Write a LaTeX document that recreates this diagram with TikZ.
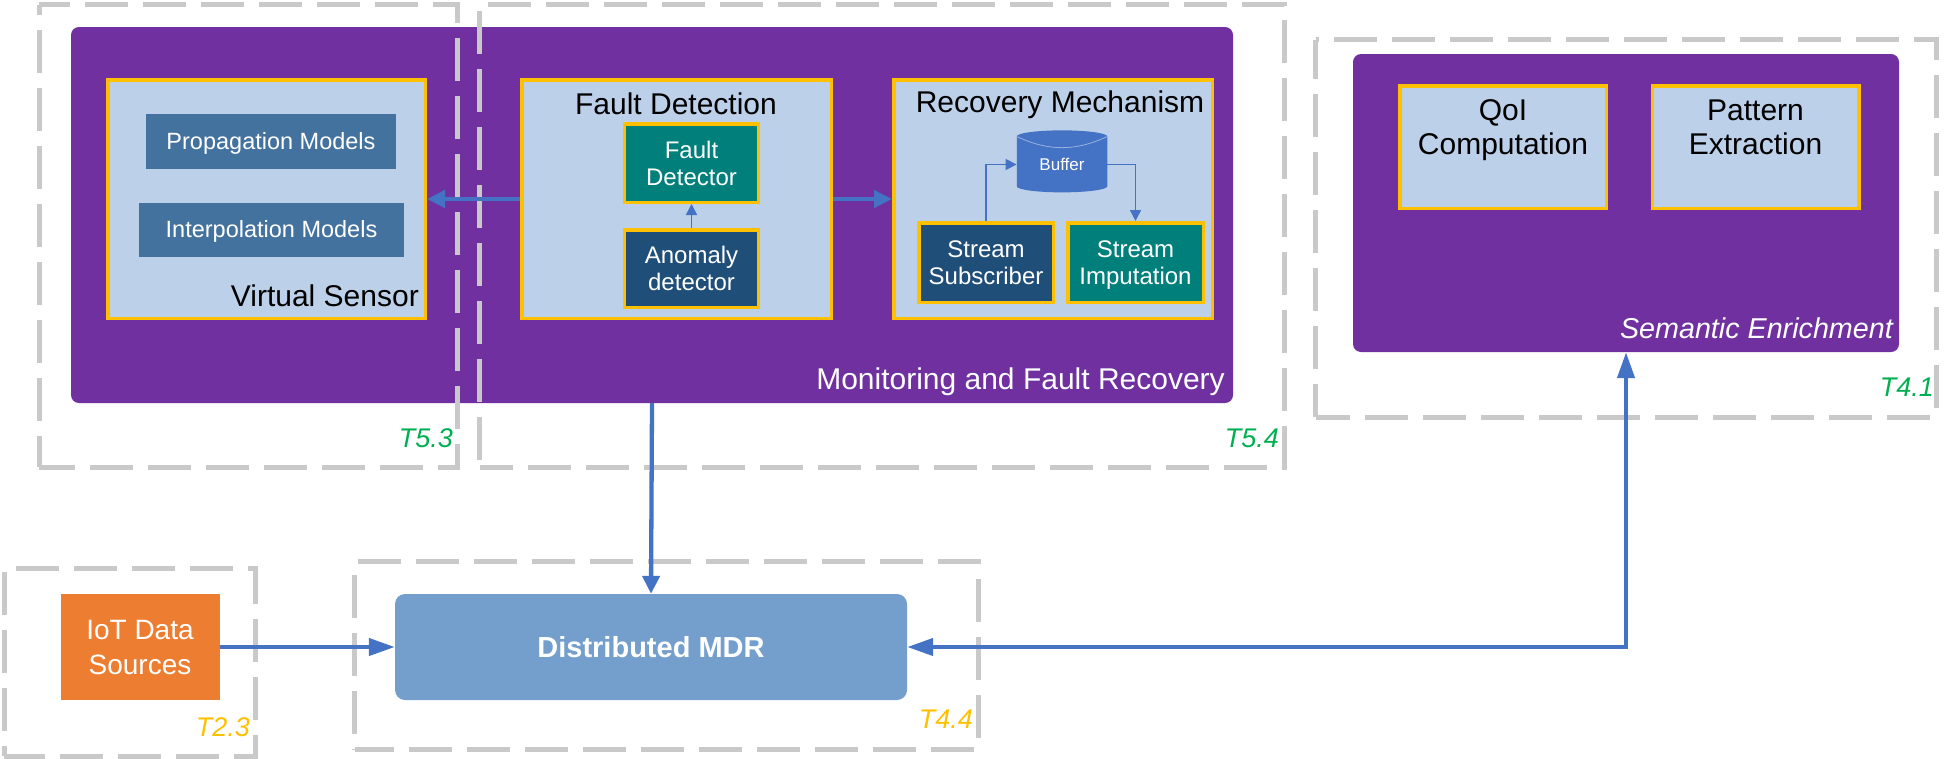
\documentclass[tikz,border=0pt]{standalone}
\usepackage{fontspec}
\setmainfont{Liberation Sans}
\usetikzlibrary{arrows.meta,shapes.geometric}
\definecolor{mainpurple}{HTML}{7030A0}
\definecolor{lightblue}{HTML}{BDD0E9}
\definecolor{goldline}{HTML}{FFC000}
\definecolor{tealbox}{HTML}{007F7B}
\definecolor{darkbox}{HTML}{1F4E79}
\definecolor{modelbox}{HTML}{44729F}
\definecolor{linkblue}{HTML}{4472C4}
\definecolor{mdrblue}{HTML}{749FCD}
\definecolor{iotorange}{HTML}{ED7D31}
\definecolor{taskgreen}{HTML}{00B050}
\definecolor{dashgray}{HTML}{C9C9C9}
\newcommand{\fs}[2]{\fontsize{#1}{#2}\selectfont}
\tikzset{
    frameanchor/.style={inner sep=0pt},
    taskline/.style={draw=dashgray, line width=5pt, dash pattern=on 43pt off 15pt},
    groupbox/.style={fill=mainpurple, rounded corners=8pt, inner sep=0pt},
    panelbox/.style={fill=lightblue, draw=goldline, line width=3.5pt, inner sep=0pt},
    modelnode/.style={fill=modelbox, text=white, inner sep=0pt, text height=18pt, text depth=3pt, font=\fs{23.5}{28}},
    tealnode/.style={fill=tealbox, draw=goldline, line width=3.5pt, text=white, align=center, inner sep=0pt, font=\fs{24}{27}},
    darknode/.style={fill=darkbox, draw=goldline, line width=3.5pt, text=white, align=center, inner sep=0pt, font=\fs{24}{27}},
    paneltext/.style={align=center, inner sep=0pt, font=\fs{30}{34}},
    tasktext/.style={anchor=east, inner sep=0pt, font=\fs{27}{32}\itshape},
    biglink/.style={draw=linkblue, line width=4.3pt, -{Triangle[length=18pt,width=17pt]}},
    longlink/.style={draw=linkblue, line width=4.3pt, -{Triangle[length=26pt,width=17pt]}},
    smalllink/.style={draw=linkblue, line width=1.6pt, -{Triangle[length=11pt,width=11pt]}}
}
\begin{document}
\begin{tikzpicture}[x=1pt,y=-1pt]
    \useasboundingbox (0,0) rectangle (1945,758);
    % purple groups
    \node [groupbox, minimum width=1162pt, minimum height=376pt] (main) at (652,215) {};
    \node [groupbox, minimum width=546pt, minimum height=298pt] (sem) at (1626,203) {};
    % task frames
    \node [frameanchor, minimum width=418pt, minimum height=462pt] (t53) at (248.5,236) {};
    \node [frameanchor, minimum width=804pt, minimum height=462pt] (t54) at (882,236) {};
    \node [frameanchor, minimum width=620pt, minimum height=377pt] (t41) at (1626,228.5) {};
    \node [frameanchor, minimum width=251pt, minimum height=187pt] (t23) at (130,662.5) {};
    \node [frameanchor, minimum width=623pt, minimum height=187pt] (t44) at (666.5,655.5) {};
    \foreach \frm/\phs/\phl in {t53/12/32.5,t54/50/51.5,t41/40/4,t23/46.5/55,t44/55/45} {
        \draw [taskline, dash phase=\phs pt] (\frm.north west) -- (\frm.north east) -- (\frm.south east) -- (\frm.south west);
        \draw [taskline, dash phase=\phl pt] (\frm.north west) -- (\frm.south west);
    }
    % panels
    \node [panelbox, minimum width=317.5pt, minimum height=238.5pt] (vs) at (266.5,199) {};
    \node [panelbox, minimum width=309.5pt, minimum height=238.5pt] (fd) at (676.5,199) {};
    \node [panelbox, minimum width=318.5pt, minimum height=238.5pt] (rec) at (1053,199) {};
    \node [panelbox, minimum width=206.5pt, minimum height=122.5pt] (qoi) at (1503,147) {};
    \node [panelbox, minimum width=206.5pt, minimum height=122.5pt] (pat) at (1755.5,147) {};
    % inner boxes
    \node [modelnode, minimum width=249.5pt, minimum height=55pt] (prop) at (271,141.5) {Propagation Models};
    \node [modelnode, minimum width=265pt, minimum height=54pt] (interp) at (271.5,230) {Interpolation Models};
    \node [tealnode, minimum width=134pt, minimum height=78.5pt] (det) at (691.5,163) {Fault\\Detector};
    \node [darknode, minimum width=134pt, minimum height=77.5pt] (anom) at (691.5,268.5) {Anomaly\\detector};
    \node [darknode, minimum width=134.5pt, minimum height=79.5pt] (sub) at (986,262.5) {Stream\\Subscriber};
    \node [tealnode, minimum width=135.5pt, minimum height=79.5pt] (imp) at (1135.5,262.5) {Stream\\\smash{Imputation}};
    \node [cylinder, shape border rotate=90, aspect=0.27, fill=linkblue, text=white, inner sep=0pt, minimum width=90.5pt, minimum height=62pt, font=\fs{17}{20}] (buf) at (1062,164.5) {Buffer};
    \draw [white!45!linkblue, line width=.8pt] (buf.before top) to [out=-25,in=-155] (buf.after top);
    \node [fill=iotorange, text=white, align=center, inner sep=0pt, minimum width=159pt, minimum height=106pt, font=\fs{28}{35}] (iot) at (140,647) {IoT Data\\Sources};
    \node [fill=mdrblue, text=white, rounded corners=10pt, inner sep=0pt, minimum width=512pt, minimum height=106pt, font=\fs{29}{34}\bfseries] (mdr) at (651,647) {Distributed MDR};
    % lecter
    \node [paneltext, anchor=east] (vstext) at (419,296) {Virtual Sensor};
    \node [paneltext] (fdtext) at (676,104) {Fault Detection};
    \node [paneltext] (rectext) at (1060,105) {Recovery Mechanism};
    \node [paneltext] (qoitext) at (1503,127) {QoI\\\smash{Computation}};
    \node [paneltext] (pattext) at (1755.5,127) {Pattern\\Extraction};
    \node [paneltext, anchor=east, text=white] (maintext) at (1225,382) {Monitoring and Fault Recovery};
    \node [paneltext, anchor=east, text=white, font=\fs{28.7}{34}\itshape] (semtext) at (1893,328) {Semantic Enrichment};
    \node [tasktext, text=taskgreen] (t53text) at (453,438) {T5.3};
    \node [tasktext, text=taskgreen] (t54text) at (1279,438) {T5.4};
    \node [tasktext, text=taskgreen] (t41text) at (1934,387) {T4.1};
    \node [tasktext, text=goldline] (t23text) at (250,727) {T2.3};
    \node [tasktext, text=goldline] (t44text) at (973,719) {T4.4};
    % links
    \draw [smalllink] (anom.north) -- (det.south);
    \draw [smalllink] (sub.north) |- (buf.west);
    \draw [smalllink] (buf.east) -| (imp.north);
    \draw [biglink] (fd.west) -- (vs.east);
    \draw [biglink] (fd.east) -- (rec.west);
    \draw [biglink] (main.south) -- (mdr.north);
    \draw [longlink] (iot.east) -- (mdr.west);
    \draw [longlink, {Triangle[length=26pt,width=17pt]}-{Triangle[length=26pt,width=17pt]}] (mdr.east) -| (sem.south);
\end{tikzpicture}
\end{document}
